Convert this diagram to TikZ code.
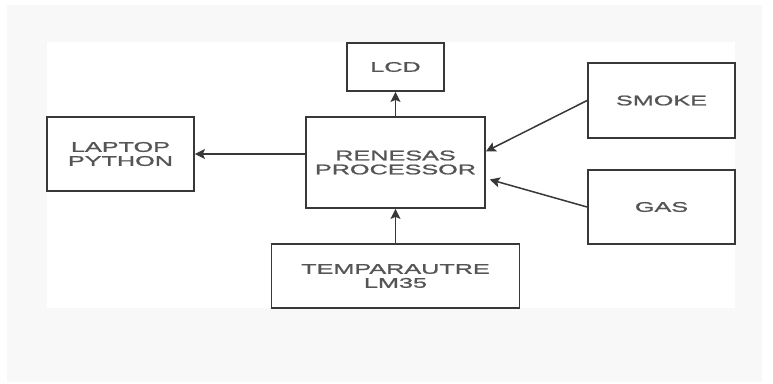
\documentclass[tikz,border=0pt]{standalone}
\usepackage{fontspec}
\setmainfont[FakeStretch=1.8,FakeBold=1.3]{Liberation Sans}
\usetikzlibrary{arrows.meta}
\definecolor{boxline}{HTML}{383838}
\definecolor{labeltext}{HTML}{555555}
\definecolor{pagegrey}{HTML}{F8F8F8}

\begin{document}
\begin{tikzpicture}[
  x=1pt, y=-1pt,
  block/.style={rectangle, draw=boxline, line width=1.8pt, fill=white, align=center,
    inner sep=0pt, text=labeltext, font=\fontsize{14}{14}\selectfont},
  link/.style={draw=boxline, line width=1.5pt, -{Stealth[length=10pt,width=10pt,inset=2pt]}}
]
  \useasboundingbox (0,0) rectangle (773,383);
  \fill[pagegrey] (7,5) rectangle (762,382);
  \fill[white] (47,42) rectangle (735,308);

  \node[block, minimum width=97pt, minimum height=48pt] (lcd) at (395.5,67) {LCD};
  \node[block, minimum width=179pt, minimum height=91pt] (cpu) at (395.5,162.5) {RENESAS\\PROCESSOR};
  \node[block, minimum width=147pt, minimum height=74pt] (laptop) at (120.5,154) {LAPTOP\\PYTHON};
  \node[block, minimum width=147pt, minimum height=75pt] (smoke) at (661.5,100.5) {SMOKE};
  \node[block, minimum width=147pt, minimum height=74pt] (gas) at (661.5,207) {GAS};
  \node[block, minimum width=248pt, minimum height=64pt] (temp) at (395.5,276) {TEMPARAUTRE\\LM35};

  \draw[link] (cpu) -- (lcd);
  \draw[link] (laptop -| cpu.west) -- (laptop.east);
  \draw[link] (smoke.west) -- (cpu.7);
  \draw[link, shorten >=4pt] (gas.west) -- (cpu.-10);
  \draw[link] (temp) -- (cpu);
\end{tikzpicture}
\end{document}
